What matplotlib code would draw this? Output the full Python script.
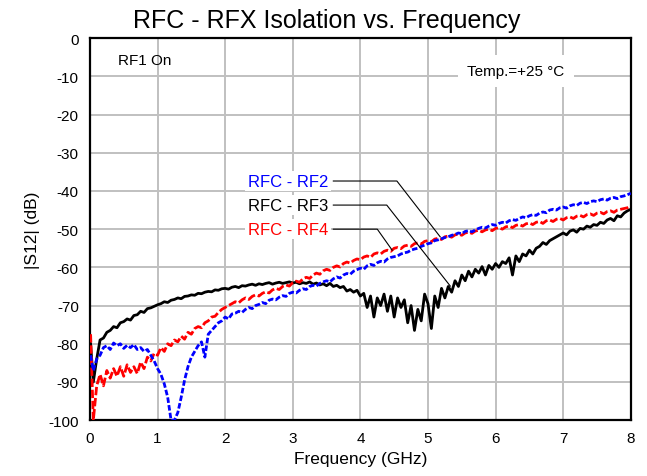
import numpy as np
import matplotlib
matplotlib.use("Agg")
import matplotlib.pyplot as plt

plt.rcParams['font.family'] = ['Liberation Sans', 'DejaVu Sans']
plt.rcParams['axes.unicode_minus'] = False

# Frequency grid (GHz): first sample at 10 MHz, then every 50 MHz
freq = np.array([0.01] + [0.05 * i for i in range(1, 161)])

# |S12| in dB
rf2 = [-83, -87, -84, -83, -81, -80.5, -81.5, -79.8, -80.5, -80.0,
       -81.2, -80.4, -81.0, -80.2, -81.5, -81.0, -82.0, -81.5, -83.0, -84.5,
       -86.5, -88.0, -90.5, -94.0, -100, -100, -98.0, -94.0, -89.5, -86.0,
       -83.5, -82.0, -80.5, -79.5, -83.5, -77.5, -76.5, -75.5, -74.5, -74.0,
       -73.0, -73.5, -72.2, -72.0, -71.5, -71.8, -71.0, -70.5, -70.8, -70.0,
       -69.7, -69.2, -69.5, -68.6, -68.3, -68.5, -67.8, -67.4, -67.6, -66.8,
       -66.5, -66.7, -66.0, -65.6, -65.8, -65.0, -64.7, -64.9, -64.2, -63.8,
       -63.5, -63.8, -63.0, -62.5, -62.8, -62.0, -61.6, -61.8, -61.0, -60.6,
       -60.2, -60.5, -59.6, -59.2, -59.5, -58.8, -58.4, -58.6, -57.8, -57.4,
       -57.2, -57.0, -56.5, -56.2, -56.0, -55.5, -55.2, -55.0, -54.5, -54.2,
       -53.8, -53.6, -53.0, -52.8, -52.5, -52.2, -52.0, -51.6, -51.4, -51.0,
       -51.2, -50.6, -50.4, -50.7, -50.2, -49.8, -49.5, -49.7, -49.2, -48.8,
       -49.0, -48.5, -48.2, -48.4, -47.8, -47.5, -47.7, -47.2, -46.8, -47.0,
       -46.5, -46.2, -46.4, -45.8, -45.5, -45.7, -45.0, -44.8, -45.0, -44.4,
       -44.2, -44.5, -43.9, -43.6, -43.8, -43.2, -43.0, -43.3, -42.8, -42.6,
       -42.8, -42.3, -42.1, -42.4, -41.9, -41.7, -42.0, -41.5, -41.3, -41.0,
       -40.6]

rf3 = [-80, -90, -84, -79, -78.5, -77, -76.5, -75.5, -75.8, -74.5,
       -74.2, -73.5, -73.8, -72.6, -72.4, -71.5, -71.8, -70.8, -70.6, -70.2,
       -69.8, -69.5, -69.0, -69.2, -68.6, -68.4, -68.0, -68.2, -67.6, -67.5,
       -67.2, -67.3, -66.8, -66.9, -66.5, -66.3, -66.4, -65.9, -66.0, -65.6,
       -65.5, -65.7, -65.2, -65.0, -65.3, -64.8, -64.9, -64.6, -64.4, -64.7,
       -64.3, -64.5, -64.2, -64.0, -64.4, -64.1, -63.9, -64.2, -64.0, -63.8,
       -64.1, -63.9, -64.3, -64.0, -64.2, -63.8, -64.4, -64.1, -64.6, -64.3,
       -64.8, -64.2, -65.0, -64.7, -65.3, -65.0, -66.2, -65.8, -66.5, -66.0,
       -67.5, -66.8, -70.5, -67.5, -73.0, -68.0, -70.0, -67.0, -71.5, -67.5,
       -73.0, -68.0, -70.5, -68.5, -74.5, -70.0, -76.5, -71.0, -74.0, -67.0,
       -69.5, -76.0, -67.5, -70.5, -65.5, -68.0, -65.0, -66.5, -63.5, -65.0,
       -62.0, -63.5, -61.0, -62.5, -60.5, -61.5, -59.8, -62.0, -59.5, -60.5,
       -59.0, -60.0, -58.5, -59.0, -57.5, -62.0, -57.0, -58.5, -56.5, -57.0,
       -55.5, -56.5, -55.0, -54.5, -53.5, -54.0, -53.0, -52.5, -52.0, -51.5,
       -51.0, -51.5, -50.5, -50.2, -50.8, -49.8, -50.0, -49.2, -49.5, -48.8,
       -49.0, -48.2, -48.5, -47.6, -47.2, -47.8, -46.5, -46.8, -45.8, -45.2,
       -44.8]

rf4 = [-77.5, -100, -91, -88, -91, -87, -89, -86.5, -88.5, -86,
       -88.5, -85.5, -87.5, -86, -87.8, -84.8, -86.5, -83.5, -84.5, -82.5,
       -83.0, -81, -82, -80, -80.5, -79, -79.5, -78, -78.8, -77,
       -77.5, -76.0, -75.5, -75.8, -74.5, -74.0, -73.0, -72.8, -71.8, -71.0,
       -70.5, -70.0, -69.5, -69.0, -69.3, -68.5, -68.0, -68.4, -67.6, -67.2,
       -67.5, -66.8, -66.4, -66.7, -65.9, -65.5, -65.8, -65.0, -64.6, -64.9,
       -64.0, -63.6, -63.9, -63.0, -62.6, -62.9, -62.0, -61.5, -61.8, -60.9,
       -60.5, -60.8, -60.0, -59.6, -59.9, -59.0, -58.6, -58.9, -58.2, -57.8,
       -58.0, -57.3, -57.0, -57.4, -56.5, -56.2, -56.5, -55.8, -55.5, -55.8,
       -55.0, -54.8, -55.1, -54.4, -54.2, -54.5, -53.8, -53.6, -53.9, -53.2,
       -53.0, -53.3, -52.6, -52.4, -52.7, -52.0, -51.8, -52.1, -51.5, -51.3,
       -51.6, -51.0, -50.8, -51.1, -50.5, -50.3, -50.7, -50.2, -50.0, -50.4,
       -49.8, -49.6, -50.0, -49.4, -49.2, -49.6, -49.0, -48.8, -49.2, -48.6,
       -48.4, -48.8, -48.2, -48.0, -48.5, -47.8, -47.6, -48.0, -47.4, -47.2,
       -47.6, -47.0, -46.8, -47.2, -46.6, -46.4, -46.8, -46.2, -46.0, -46.4,
       -45.8, -45.6, -46.0, -45.4, -45.2, -45.6, -45.0, -44.8, -44.6, -44.4,
       -44.0]

labels = ['RFC - RF2', 'RFC - RF3', 'RFC - RF4']
colors = ['#0000ff', '#000000', '#ff0000']
label_y = [-37.4, -43.7, -50.0]
# leader lines: (x of elbow, end x, end y)
leaders = [(4.54, 5.18, -52.0), (4.39, 5.33, -64.9), (4.25, 4.47, -55.5)]

fig = plt.figure(figsize=(6.47, 4.77), dpi=100)
ax = fig.add_axes([0.139, 0.117, 0.836, 0.801])

ax.plot(freq, rf3, color=colors[1], lw=2, zorder=3)
ax.plot(freq, rf4, color=colors[2], lw=2, ls=(0, (3, 1)), zorder=4)
ax.plot(freq, rf2, color=colors[0], lw=2, ls=(0, (2, 0.8)), zorder=5)

ax.set_xlim(0, 8)
ax.set_ylim(-100, 0)
ax.set_xticks(range(0, 9))
ax.set_yticks(range(-100, 1, 10))
ax.grid(True, color='#c0c0c0', lw=1.4, zorder=0)
ax.set_axisbelow(True)
ax.tick_params(length=0, labelsize=11, pad=8)
for s in ax.spines.values():
    s.set_linewidth(1.6)

ax.set_xlabel('Frequency (GHz)', fontsize=12.5, labelpad=4)
ax.set_ylabel('|S12| (dB)', fontsize=12.5, labelpad=6)
fig.text(0.505, 0.955, 'RFC - RFX Isolation vs. Frequency',
         ha='center', va='center', fontsize=18)

for lab, c, y, (xe, x2, y2) in zip(labels, colors, label_y, leaders):
    ax.text(3.52, y, lab, color=c, fontsize=12, ha='right', va='center',
            bbox=dict(facecolor='white', edgecolor='none', pad=2), zorder=6)
    ax.plot([3.6, xe, x2], [y, y, y2], color='black', lw=0.8, zorder=7)

ax.text(0.41, -5.8, 'RF1 On', fontsize=11, ha='left', va='center', zorder=6)
ax.text(6.3, -8.6, 'Temp.=+25 °C', fontsize=11, ha='center', va='center',
        bbox=dict(facecolor='white', edgecolor='none', boxstyle='square,pad=0.6'),
        zorder=6)

fig.savefig('out.png', dpi=100)
